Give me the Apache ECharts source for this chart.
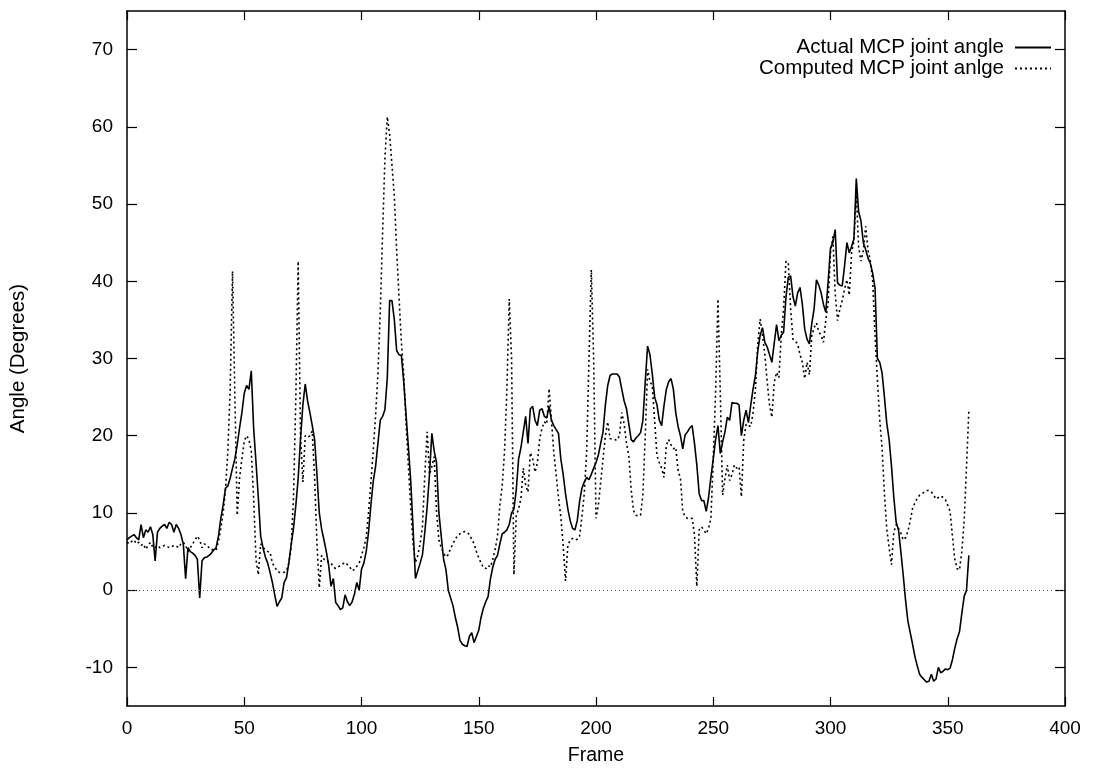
<!DOCTYPE html>
<html>
<head>
<meta charset="utf-8">
<script src="https://cdn.jsdelivr.net/npm/echarts@6/dist/echarts.min.js"></script>
<style>
html,body{margin:0;padding:0;background:#fff;}
#chart{width:1101px;height:771px;}
</style>
</head>
<body>
<div id="chart"></div>
<script>
// Actual MCP joint angle, one value per frame (0..359)
const actual = [
6.5,6.8,7,7.2,6.8,6.5,8.5,6.8,7.8,7.5,
8.2,7.2,3.8,7.5,8,8.3,8.5,8,8.8,8.5,
7.5,8.5,8,7.2,6,1.5,5.5,5,4.8,4.5,
4,-1,3.8,4.2,4.3,4.5,4.8,5.2,5.5,7,
9.3,11,13.2,13.5,14.5,15.8,17,18.8,21,23,
25.5,26.5,26,28.4,21,16.6,12,7,5.5,4.3,
3.5,2.3,1,-0.6,-2.1,-1.5,-1,1,1.6,3.5,
5.9,8,11,14.5,19.6,24,26.7,24.5,23,21.3,
19.5,15,10,7.9,6.5,5,3.2,0.5,1.5,-1.6,
-2,-2.5,-2.3,-0.6,-1.5,-2,-1.5,-0.5,1,0,
2.7,3.5,5,7.5,11,14.1,16,19,22,22.5,
23.4,27.5,37.5,37.5,35,31,30.5,30.4,27,22.7,
18.5,14.1,8,1.5,2.5,3.5,4.6,7.5,10.8,15,
20.3,18,16.5,10,7,4,2.7,0,-1,-2,
-3.5,-4.8,-6.5,-7,-7.2,-7.3,-6,-5.5,-6.8,-6,
-5.2,-3.5,-2.3,-1.5,-0.8,1.5,3,4,4.5,6,
7.3,7.5,7.8,8.5,10,10.5,13,17,18.5,20.5,
22.5,19,23.5,23.8,22,21.3,23.3,23.5,22.5,22.3,
23.8,22,21.3,20.8,20.3,17,15,12.5,10.5,9,
8,7.8,9,11.5,13.2,14,14.6,14.3,15,15.8,
16.5,17.5,19,20.5,24,26.5,27.8,28,28,28,
27.6,26,24.5,23.5,21.5,19.5,19.2,19.7,20,20.4,
22,27,31.6,30.5,28,25,24,22,21.3,23.9,
26,27,27.4,26,23,21.2,20,18.3,20.1,20.5,
21,21.3,19,16.2,12.5,11.6,11.6,10.2,12,14.6,
17,19.5,21.3,17.7,19.2,20.5,22.4,22,24.3,24.2,
24.2,24,20,22,23.3,21.7,24,26.1,27.8,31,
33,34,32.1,31.5,30.5,29.5,32,34.4,32.3,33,
33.4,37.9,40.5,40.7,38,36.8,38.5,39.2,37,33.8,
32.5,31.9,34.5,36.4,40.2,39.5,38.5,37,36,40,
44.3,45,46.7,39.8,39.5,39.4,42,45,43.7,44.5,
45.5,53.3,49,47.8,45,44.1,43,42.3,41,39.1,
30,29.5,28.1,25,21.6,19.5,16.1,12,8.8,7.8,
5,2,-1.3,-4,-5.5,-7,-8.6,-9.8,-10.9,-11.3,
-11.6,-11.9,-11.8,-10.9,-11.8,-11.5,-10,-10.7,-10.5,-10.2,
-10.3,-10.1,-9,-7.5,-6.3,-5.4,-3,-0.8,0,4.5
];
// Computed MCP joint angle, one value per frame (0..359)
const computed = [
6.2,6,6.3,6.5,6,6.2,5.8,6,5.3,5.8,
6.2,5.6,5.5,5.8,5.5,5.6,5.8,5.7,5.5,5.6,
5.8,5.7,5.5,6,6.2,5.8,5,5.5,6,6.5,
7,6.5,5.5,6,5.8,5.5,5.2,5.3,5.2,6.3,
8,10,13,18,26,41.3,25,9.7,14.5,17,
19.3,20,19.5,18,12,4,2,6,5.5,5.3,
5,4.9,3.5,3,2.5,2.3,2.3,2.3,2.5,3.5,
5.5,12,25,42.6,20,14,20,19.8,20,20.6,
14.6,6,0.3,4.5,4,3.7,3.7,3.5,3,2.8,
3,3.2,3.4,3.6,3.3,3,2.5,2.7,3.1,3.5,
4.5,5.5,6.8,10,14,18,22.6,28,36,46.3,
56,61.3,59,55,51,44,38,32.1,28,21.6,
16,10.7,6,3.6,4.5,6,8.3,15,20.5,15,
16,17.3,10.2,6.5,5.5,4.8,4.3,4.6,5.4,6,
6.6,7.1,7.3,7.5,7.6,7.5,7.2,6.6,6,5,
4.2,3.5,2.9,2.8,3.2,3,4,5.3,7,11,
13.5,18,26,37.7,30,2,9.7,10.5,11.9,15.8,
13.6,12.7,17.8,17,15.3,16.5,19.6,21,21.8,21.5,
26.1,22,17.8,15,12,9.5,5.8,1.2,5.8,6.5,
6.7,6.5,6.6,7,9.5,12.5,17.8,29.9,41.5,29.9,
9.3,11,14,17,20,21.8,19.6,19.6,19.5,19.4,
20,23,21.5,19,17.4,13,10.3,9.7,9.6,9.7,
12.4,20,28.6,27,26.5,22,17.4,16.5,15.8,14.6,
18.8,19.5,18.8,18.3,18.5,15.5,14.5,10.2,9.5,9.3,
9.3,9.3,7.2,0.5,7.8,8.2,7.8,7.3,8,9.3,
17,25.6,37.7,25.6,12.3,14.5,16.2,14.2,15,16.2,
15.8,16,12.1,19.4,21.5,21.3,21.2,23,26.1,32,
35.1,33,30.5,27,24,22.4,26.9,28.2,27.5,33,
36.4,42.6,42.4,36.4,32.5,32.2,31.9,30.5,29.5,27.4,
29.5,27.9,32.9,34,34.6,33.5,33,32.1,35,37.3,
43.7,45.8,38.4,34.9,36.4,37.5,39,40.2,38.2,43.7,
45.2,51.5,44.4,42.6,44,47.1,44,42.6,40,33,
27.3,22,18.4,12.5,7.9,5.5,3.3,7.5,8.5,8,
7.4,6.5,6.8,7.6,9,10.6,11.3,11.9,12.3,12.5,
12.7,12.9,12.9,12.7,12.3,11.8,12,12.2,12,11.7,
11,10.2,7,4,2.8,2.6,5,9,16,23.3
];
const yTicks = [-10, 0, 10, 20, 30, 40, 50, 60, 70];
const seriesNames = ['Actual MCP joint angle', 'Computed MCP joint anlge'];
const xTitle = 'Frame';
const yTitle = 'Angle (Degrees)';

const FONT = 'Liberation Sans, Arial, Helvetica, sans-serif';
const toPairs = arr => arr.map((v, i) => [i, v]);

const chart = echarts.init(document.getElementById('chart'), null, {renderer: 'canvas'});
const axisLine = {show: true, onZero: false, lineStyle: {color: '#000', width: 1.5}};
const xTick = {show: true, inside: true, length: 9, lineStyle: {color: '#000', width: 1.2}};
const yTick = {show: true, inside: true, length: 10, customValues: yTicks, lineStyle: {color: '#000', width: 1.2}};
chart.setOption({
  animation: false,
  backgroundColor: '#fff',
  grid: {left: 126, right: 36, top: 11, bottom: 57, containLabel: false},
  legend: {
    orient: 'vertical',
    right: 44,
    top: 32,
    align: 'right',
    itemWidth: 36,
    itemHeight: 10,
    itemGap: 0,
    itemStyle: {opacity: 0},
    textStyle: {fontFamily: FONT, fontSize: 20.5, color: '#000', padding: [0, 6, 0, 0]},
    data: seriesNames
  },
  xAxis: [{
    type: 'value', min: 0, max: 400, interval: 50,
    name: xTitle, nameLocation: 'middle', nameGap: 40,
    nameTextStyle: {fontFamily: FONT, fontSize: 19.5, color: '#000'},
    axisLine: axisLine,
    axisTick: xTick,
    axisLabel: {fontFamily: FONT, fontSize: 19, color: '#000', margin: 13},
    splitLine: {show: false}
  }, {
    type: 'value', min: 0, max: 400, interval: 50, position: 'top',
    axisLine: axisLine,
    axisTick: xTick,
    axisLabel: {show: false},
    splitLine: {show: false}
  }],
  yAxis: [{
    type: 'value', min: -15, max: 75,
    name: yTitle, nameLocation: 'middle', nameGap: 98, nameRotate: 90,
    nameTextStyle: {fontFamily: FONT, fontSize: 20.5, color: '#000'},
    axisLine: axisLine,
    axisTick: yTick,
    axisLabel: {fontFamily: FONT, fontSize: 19, color: '#000', margin: 14, customValues: yTicks},
    splitLine: {show: false}
  }, {
    type: 'value', min: -15, max: 75, position: 'right',
    axisLine: axisLine,
    axisTick: yTick,
    axisLabel: {show: false},
    splitLine: {show: false}
  }],
  series: [{
    name: seriesNames[0],
    type: 'line',
    data: toPairs(actual),
    showSymbol: false,
    symbol: 'none',
    lineStyle: {color: '#000', width: 1.6, type: 'solid'},
    itemStyle: {color: '#000'},
    markLine: {
      silent: true, symbol: 'none', label: {show: false},
      lineStyle: {color: '#555', width: 1, type: [1, 3]},
      data: [{yAxis: 0}]
    },
    z: 3
  }, {
    name: seriesNames[1],
    type: 'line',
    data: toPairs(computed),
    showSymbol: false,
    symbol: 'none',
    lineStyle: {color: '#000', width: 1.6, type: [2, 3]},
    itemStyle: {color: '#000'},
    z: 2
  }]
});
</script>
</body>
</html>
